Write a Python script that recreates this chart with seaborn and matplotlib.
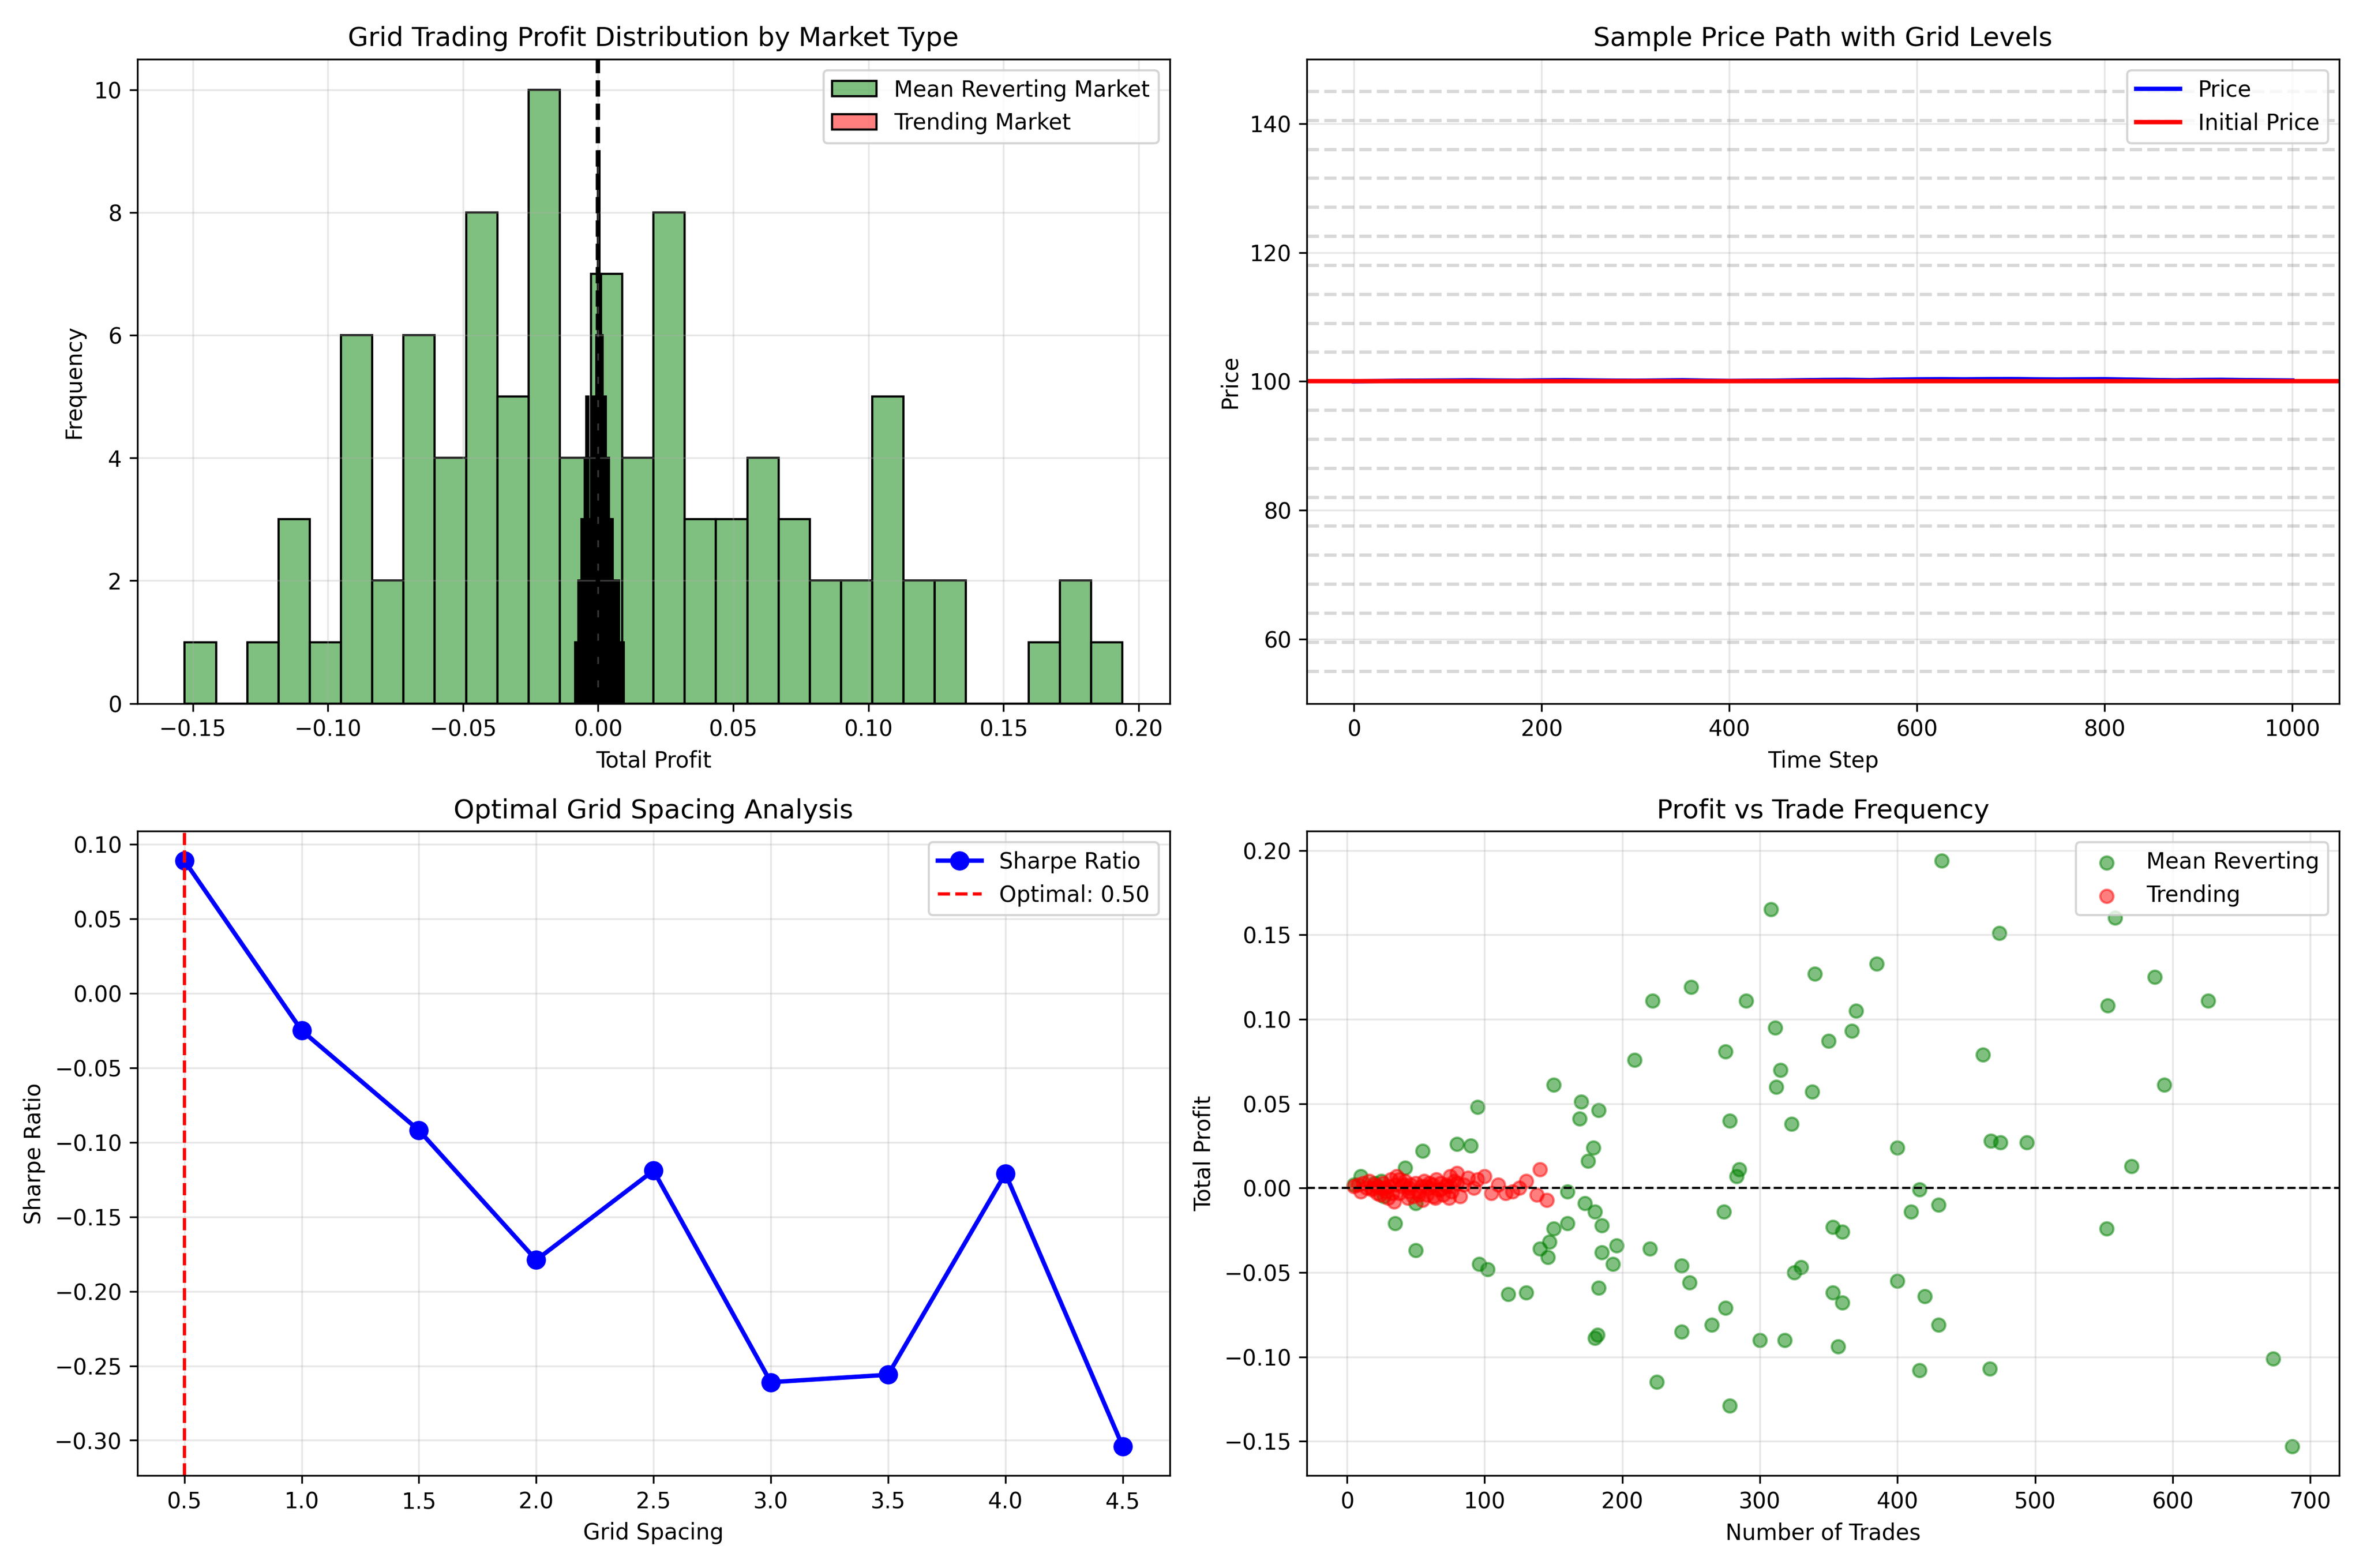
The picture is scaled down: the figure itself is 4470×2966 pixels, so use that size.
import matplotlib
matplotlib.use("Agg")
import matplotlib.pyplot as plt
import numpy as np
import pandas as pd
import seaborn as sns

# histogram bins
mr_edges = np.linspace(-0.153, 0.194, 31)
mr_counts = [1, 0, 1, 3, 1, 6, 2, 6, 4, 8, 5, 10, 4, 7, 4, 8, 3, 3, 4, 3, 2, 2, 5, 2, 2, 0, 0, 1, 2, 1]
tr_edges = np.linspace(-0.0085, 0.0095, 31)
tr_counts = [1, 1, 2, 2, 3, 1, 4, 5, 2, 3, 4, 5, 5, 6, 9, 7, 6, 4, 5, 3, 4, 3, 3, 2, 2, 1, 2, 1, 1, 1]

# price path sampled every 25 steps
time_steps = list(range(0, 1001, 25))
prices = [100.0, 100.03, 100.08, 100.1, 100.12, 100.15, 100.12, 100.1, 100.14, 100.17, 100.13,
          100.1, 100.08, 100.12, 100.16, 100.1, 100.05, 100.08, 100.1, 100.15, 100.2, 100.22,
          100.18, 100.25, 100.3, 100.32, 100.3, 100.33, 100.35, 100.3, 100.28, 100.3, 100.32,
          100.26, 100.2, 100.15, 100.2, 100.22, 100.18, 100.15, 100.12]
initial_price = 100.0
grid_levels = [55 + 4.5 * i for i in range(21)]

# grid spacing analysis
spacings = [0.5, 1.0, 1.5, 2.0, 2.5, 3.0, 3.5, 4.0, 4.5]
sharpe = [0.089, -0.025, -0.092, -0.179, -0.119, -0.261, -0.256, -0.121, -0.304]

# scatter: mean reverting
mr_trades = [432, 308, 558, 474, 385, 340, 587, 250, 626, 290, 222, 553, 370, 311, 367, 350, 275, 462,
             209, 315, 594, 312, 150, 338, 170, 95, 183, 169, 278, 323, 80, 90, 179, 400, 55, 468, 475,
             494, 285, 283, 570, 175, 42, 10, 25, 20, 5, 160, 416, 27, 50, 173, 35, 180, 274, 410, 430,
             150, 185, 160, 196, 140, 220, 185, 50, 353, 360, 552, 147, 96, 102, 146, 193, 243, 330, 325,
             400, 249, 183, 353, 130, 117, 420, 360, 275, 430, 265, 243, 182, 180, 300, 318, 357, 225,
             467, 416, 278, 673, 687]
mr_profit = [0.194, 0.165, 0.160, 0.151, 0.133, 0.127, 0.125, 0.119, 0.111, 0.111, 0.111, 0.108, 0.105,
             0.095, 0.093, 0.087, 0.081, 0.079, 0.076, 0.070, 0.061, 0.060, 0.061, 0.057, 0.051, 0.048,
             0.046, 0.041, 0.040, 0.038, 0.026, 0.025, 0.024, 0.024, 0.022, 0.028, 0.027, 0.027, 0.011,
             0.007, 0.013, 0.016, 0.012, 0.007, 0.004, 0.003, 0.002, -0.002, -0.001, -0.005, -0.009,
             -0.009, -0.021, -0.014, -0.014, -0.014, -0.010, -0.024, -0.022, -0.021, -0.034, -0.036,
             -0.036, -0.038, -0.037, -0.023, -0.026, -0.024, -0.032, -0.045, -0.048, -0.041, -0.045,
             -0.046, -0.047, -0.050, -0.055, -0.056, -0.059, -0.062, -0.062, -0.063, -0.064, -0.068,
             -0.071, -0.081, -0.081, -0.085, -0.087, -0.089, -0.090, -0.090, -0.094, -0.115, -0.107,
             -0.108, -0.129, -0.101, -0.153]
# scatter: trending
tr_trades = [5, 8, 10, 12, 14, 16, 18, 20, 22, 24, 26, 28, 30, 32, 34, 35, 36, 38, 40, 42, 44, 45, 46, 48,
             50, 52, 54, 55, 56, 58, 60, 62, 64, 65, 66, 68, 70, 72, 74, 75, 76, 78, 80, 82, 85, 88, 92,
             95, 100, 105, 110, 115, 120, 125, 130, 138, 140, 145, 22, 30, 38, 45, 52, 60, 68, 75, 25,
             33, 41, 57, 63, 72, 80, 18, 28]
tr_profit = [0.001, 0.002, -0.002, 0.003, 0.000, 0.004, -0.001, 0.002, 0.001, -0.004, 0.003, 0.000,
             -0.006, 0.005, -0.008, 0.002, 0.007, -0.003, 0.001, 0.004, -0.006, 0.000, 0.002, -0.005,
             0.003, -0.002, 0.001, -0.007, 0.004, -0.004, 0.000, 0.002, -0.006, 0.005, -0.001, 0.003,
             -0.004, 0.001, -0.006, 0.007, -0.002, 0.004, 0.009, -0.005, 0.002, 0.006, 0.000, 0.005,
             0.007, -0.003, 0.002, -0.003, -0.002, 0.000, 0.004, -0.004, 0.011, -0.007, -0.003, 0.001,
             0.005, -0.002, -0.004, 0.003, -0.001, 0.001, 0.000, -0.003, 0.002, 0.001, -0.005, 0.002,
             0.003, 0.000, -0.002]

mr_hist = pd.DataFrame({"profit": (mr_edges[:-1] + mr_edges[1:]) / 2, "count": mr_counts})
tr_hist = pd.DataFrame({"profit": (tr_edges[:-1] + tr_edges[1:]) / 2, "count": tr_counts})

fig, axes = plt.subplots(2, 2, figsize=(14.9, 9.887))

# top-left: histogram
ax = axes[0, 0]
sns.histplot(data=mr_hist, x="profit", weights="count", bins=mr_edges.tolist(), color="green",
             alpha=0.5, edgecolor="black", linewidth=1, label="Mean Reverting Market", ax=ax)
sns.histplot(data=tr_hist, x="profit", weights="count", bins=tr_edges.tolist(), color="red",
             alpha=0.5, edgecolor="black", linewidth=1, label="Trending Market", ax=ax)
ax.axvline(0, color="black", linestyle="--", linewidth=2)
ax.set_xlim(-0.1705, 0.2115)
ax.set_title("Grid Trading Profit Distribution by Market Type")
ax.set_xlabel("Total Profit")
ax.set_ylabel("Frequency")
ax.legend()
ax.grid(True, alpha=0.3)

# top-right: price path
ax = axes[0, 1]
for lvl in grid_levels:
    ax.axhline(lvl, color="gray", linestyle="--", alpha=0.3)
sns.lineplot(x=time_steps, y=prices, color="blue", linewidth=2, label="Price", ax=ax)
ax.axhline(initial_price, color="red", linewidth=2, label="Initial Price")
ax.set_xlim(-50, 1050)
ax.set_ylim(50, 150)
ax.set_title("Sample Price Path with Grid Levels")
ax.set_xlabel("Time Step")
ax.set_ylabel("Price")
ax.legend(loc="upper right")
ax.grid(True, alpha=0.3)

# bottom-left: sharpe vs spacing
ax = axes[1, 0]
sns.lineplot(x=spacings, y=sharpe, color="blue", marker="o", markersize=8, markeredgecolor="blue",
             linewidth=2, label="Sharpe Ratio", ax=ax)
ax.axvline(0.5, color="red", linestyle="--", label="Optimal: 0.50")
ax.set_title("Optimal Grid Spacing Analysis")
ax.set_xlabel("Grid Spacing")
ax.set_ylabel("Sharpe Ratio")
ax.legend()
ax.grid(True, alpha=0.3)

# bottom-right: profit vs trades
ax = axes[1, 1]
sns.scatterplot(x=mr_trades, y=mr_profit, color="green", alpha=0.5, s=36, edgecolor="green",
                linewidth=1, label="Mean Reverting", ax=ax)
sns.scatterplot(x=tr_trades, y=tr_profit, color="red", alpha=0.5, s=36, edgecolor="red",
                linewidth=1, label="Trending", ax=ax)
ax.axhline(0, color="black", linestyle="--", linewidth=1)
ax.set_title("Profit vs Trade Frequency")
ax.set_xlabel("Number of Trades")
ax.set_ylabel("Total Profit")
ax.legend()
ax.grid(True, alpha=0.3)

fig.tight_layout()
fig.savefig("out.png", dpi=300)
